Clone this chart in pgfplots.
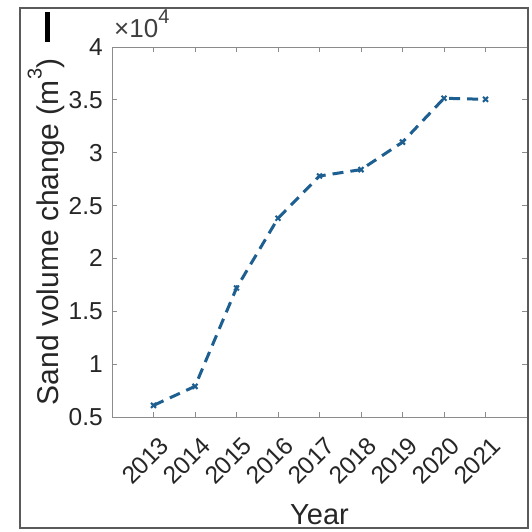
\documentclass[border=0pt]{standalone}
\usepackage{fontspec}
\setmainfont{Liberation Sans}
\usepackage{pgfplots}
\pgfplotsset{compat=1.18}
\definecolor{lineblue}{RGB}{30,95,145}
\definecolor{framegray}{RGB}{90,90,90}
\definecolor{axgray}{RGB}{140,140,140}
\begin{document}
\begin{tikzpicture}[x=1pt,y=1pt]
\useasboundingbox (0,0) rectangle (532,531);
\fill[white] (0,0) rectangle (532,531);
\begin{axis}[
  at={(112pt,114pt)}, anchor=south west,
  width=415pt, height=370pt, scale only axis,
  xmin=2012, xmax=2022, ymin=5000, ymax=40000,
  xtick={2013,...,2021},
  xticklabels={2013,2014,2015,2016,2017,2018,2019,2020,2021},
  ytick={5000,10000,15000,20000,25000,30000,35000,40000},
  yticklabels={0.5,1,1.5,2,2.5,3,3.5,4},
  scaled y ticks=false,
  tick align=inside, xtick pos=both, ytick pos=both,
  major tick length=5pt,
  axis line style={axgray, line width=1pt},
  tick style={axgray, line width=0.8pt},
  every tick label/.append style={font=\fontsize{24.5}{28}\selectfont, text=black!85},
  /pgf/number format/assume math mode=true,
  yticklabel style={anchor=east, inner sep=0pt, xshift=-9pt},
  xticklabel style={xshift=5pt, yshift=-18pt, rotate=45, anchor=north east, inner sep=0pt},
  clip=false,
]
\addplot[lineblue, line width=3pt, dash pattern=on 11pt off 7pt,
  mark=x, mark size=3.5pt, mark options={solid, line width=2pt}]
  coordinates {
  (2013,6100) (2014,7900) (2015,17200) (2016,23800) (2017,27800)
  (2018,28400) (2019,31000) (2020,35150) (2021,35050)
  };
\end{axis}
\node[anchor=base west, inner sep=0pt, text=black!75] at (114,493) {\fontsize{26}{28}\selectfont ×10\raisebox{0.55em}{\fontsize{20}{22}\selectfont 4}};
\node[rotate=90, anchor=base, inner sep=0pt, text=black!85] at (58,299) {\fontsize{30}{34}\selectfont Sand volume change (m\raisebox{0.55em}{\fontsize{20}{22}\selectfont 3})};
\node[anchor=base, inner sep=0pt, text=black!85] at (319.5,7) {\fontsize{29}{32}\selectfont Year};
\fill[black] (45,489) rectangle (50,519);
\draw[framegray, line width=2.5pt] (20,523) rectangle (528,3);
\end{tikzpicture}
\end{document}
